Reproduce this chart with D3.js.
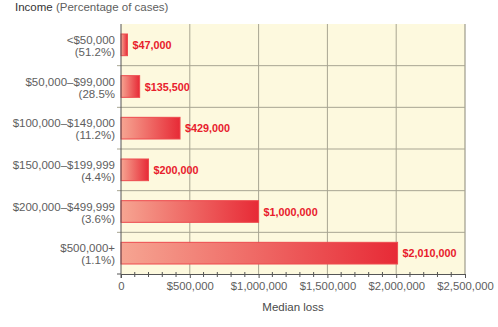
<!DOCTYPE html>
<html>
<head>
<meta charset="utf-8">
<script src="https://cdn.jsdelivr.net/npm/d3@7"></script>
<style>
  body { margin: 0; background: #fff; }
  text { font-family: "Liberation Sans", Arial, sans-serif; }
</style>
</head>
<body>
<div class="canvas"></div>
<script>
const incomes = ['<$50,000', '$50,000–$99,000', '$100,000–$149,000', '$150,000–$199,999', '$200,000–$499,999', '$500,000+'];
const shares = ['(51.2%)', '(28.5%', '(11.2%)', '(4.4%)', '(3.6%)', '(1.1%)'];
const medianLoss = [47000, 135500, 429000, 200000, 1000000, 2010000];
const xTicks = [0, 500000, 1000000, 1500000, 2000000, 2500000];

const dims = { width: 498, height: 327 };
const margin = { top: 24, left: 121, right: 33, bottom: 53 };
const pw = dims.width - margin.left - margin.right;
const ph = dims.height - margin.top - margin.bottom;

const svg = d3.select('.canvas')
    .append('svg')
    .attr('width', dims.width)
    .attr('height', dims.height);

// bar gradient, light on the left to red on the right
const grad = svg.append('defs').append('linearGradient')
    .attr('id', 'barFill')
    .attr('x1', '0%').attr('x2', '100%');
grad.append('stop').attr('offset', '0%').attr('stop-color', '#f6a592');
grad.append('stop').attr('offset', '100%').attr('stop-color', '#e72a36');

const graph = svg.append('g')
    .attr('transform', `translate(${margin.left},${margin.top})`);

const x = d3.scaleLinear().domain([0, 2500000]).range([0, pw]);
const y = d3.scaleBand().domain(incomes).range([0, ph]).paddingInner(0.48).paddingOuter(0.24);
const band = d3.scaleBand().domain(incomes).range([0, ph]);

graph.append('rect')
    .attr('width', pw).attr('height', ph)
    .attr('fill', '#fdf9de');

// vertical grid
graph.selectAll('.vgrid')
    .data(xTicks.slice(1))
    .enter().append('line')
    .attr('x1', d => x(d)).attr('x2', d => x(d))
    .attr('y1', 0).attr('y2', ph)
    .attr('stroke', d => d === 2500000 ? '#8a8878' : '#a8a592')
    .attr('stroke-width', 1);

// horizontal band separators
graph.selectAll('.hgrid')
    .data(incomes.slice(1))
    .enter().append('line')
    .attr('x1', -4).attr('x2', pw)
    .attr('y1', d => band(d)).attr('y2', d => band(d))
    .attr('stroke', '#a8a592');

graph.append('line')
    .attr('x1', -4).attr('x2', 0)
    .attr('y1', ph).attr('y2', ph)
    .attr('stroke', '#555');

// bars
graph.selectAll('.bar')
    .data(medianLoss)
    .enter().append('rect')
    .attr('x', 0)
    .attr('y', (d, i) => y(incomes[i]))
    .attr('width', d => x(d))
    .attr('height', y.bandwidth())
    .attr('fill', 'url(#barFill)')
    .attr('stroke', '#ee4a4e')
    .attr('stroke-width', 1);

graph.selectAll('.val')
    .data(medianLoss)
    .enter().append('text')
    .attr('x', d => x(d) + 5)
    .attr('y', (d, i) => y(incomes[i]) + y.bandwidth() / 2 + 4)
    .attr('fill', '#e8202c')
    .attr('font-size', 10.8)
    .attr('font-weight', 'bold')
    .text(d => '$' + d3.format(',')(d));

// left axis line
graph.append('line')
    .attr('x1', 0).attr('x2', 0).attr('y1', 0).attr('y2', ph + 4)
    .attr('stroke', '#555');

// category labels
const cat = graph.selectAll('.cat')
    .data(incomes)
    .enter().append('text')
    .attr('text-anchor', 'end')
    .attr('fill', '#5e5e5e')
    .attr('font-size', 11.5)
    .attr('transform', d => `translate(-6,${band(d) + band.bandwidth() / 2})`);
cat.append('tspan').attr('x', 0).attr('y', -1).text(d => d);
cat.append('tspan').attr('x', 0).attr('y', 11).text((d, i) => shares[i]);

// bottom axis
const xAxis = d3.axisBottom(x)
    .tickValues(xTicks)
    .tickSize(4)
    .tickPadding(4)
    .tickFormat(d => d === 0 ? '0' : '$' + d3.format(',')(d));

const axisG = graph.append('g')
    .attr('transform', `translate(0,${ph})`)
    .call(xAxis);
axisG.select('.domain').attr('stroke', '#555');
axisG.selectAll('.tick line').attr('stroke', '#555');
axisG.selectAll('text')
    .attr('fill', '#5e5e5e')
    .attr('font-size', 11.3)
    .attr('font-family', '"Liberation Sans", Arial, sans-serif');

// minor ticks
graph.selectAll('.minor')
    .data(d3.range(0, 2500001, 100000).filter(d => d % 500000 !== 0))
    .enter().append('line')
    .attr('x1', d => x(d)).attr('x2', d => x(d))
    .attr('y1', ph - 2).attr('y2', ph + 3)
    .attr('stroke', '#555');

graph.append('text')
    .attr('x', pw / 2)
    .attr('y', ph + 37)
    .attr('text-anchor', 'middle')
    .attr('fill', '#4a4a4a')
    .attr('font-size', 11.5)
    .text('Median loss');

// title
const title = svg.append('text')
    .attr('x', 15).attr('y', 11)
    .attr('font-size', 11.5);
title.append('tspan').attr('fill', '#333').text('Income ');
title.append('tspan').attr('fill', '#5e5e5e').text('(Percentage of cases)');
</script>
</body>
</html>
